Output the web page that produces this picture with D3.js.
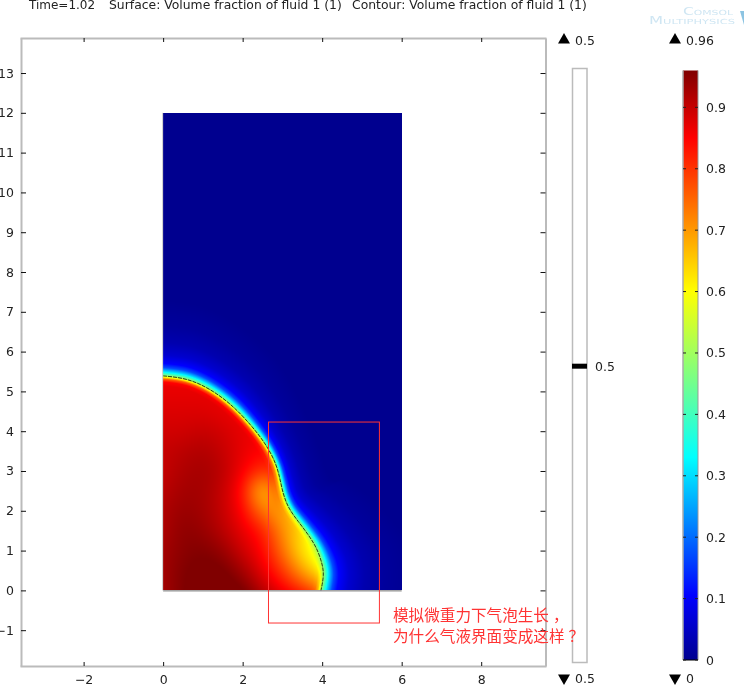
<!DOCTYPE html>
<html><head><meta charset="utf-8">
<script src="https://cdn.jsdelivr.net/npm/d3@7/dist/d3.min.js"></script>
<style>
html,body{margin:0;padding:0;background:#fff;overflow:hidden}
#wrap{position:relative;width:744px;height:688px}
canvas,svg{position:absolute;left:0;top:0}
text{font-family:"DejaVu Sans",sans-serif;font-size:12px;fill:#222}
</style></head><body><div id="wrap"><canvas id="field"></canvas><svg id="chart" width="744" height="688"></svg></div>
<script>
// ---------- data ----------
const titleParts = ["Time=1.02", "Surface: Volume fraction of fluid 1 (1)", "Contour: Volume fraction of fluid 1 (1)"];
const xTicks = [-2, 0, 2, 4, 6, 8];
const yTicks = [-1, 0, 1, 2, 3, 4, 5, 6, 7, 8, 9, 10, 11, 12, 13];
const barTicks = [0, 0.1, 0.2, 0.3, 0.4, 0.5, 0.6, 0.7, 0.8, 0.9];
const domainR = [0, 6];
const domainZ = [0, 12];
const xView = [-3.6, 9.63];
const yView = [-1.9, 13.88];
const colorRange = [0, 0.96];
const contourLevel = 0.5;
const contourMarkPos = 0.5;
const contourRange = ["0.5", "0.5"];
const surfaceRange = ["0.96", "0"];
// interface (contour 0.5): r, z, halo width factor
const ifaceR = [0, 0, .51, .93, 1.35, 1.77, 2.19, 2.57, 2.82, 2.93, 3.01, 3.15, 3.40, 3.66, 3.87, 4.00, 4.05, 3.97, 3.97];
const ifaceZ = [5.39, 5.39, 5.34, 5.19, 4.95, 4.62, 4.18, 3.70, 3.24, 2.86, 2.44, 2.06, 1.73, 1.39, 1.06, .68, .39, 0, 0];
const haloW  = [1.05, 1.05, 1.05, 1.0, .95, .9, .8, .7, .65, .65, .7, .8, .9, 1.0, 1.1, 1.25, 1.3, 1.3, 1.3];
// volume fraction outside the interface versus distance
const outD = [0, .05, .10, .20, .30, .50, .80, 1.2, 1.8];
const outV = [.5, .40, .31, .17, .105, .06, .03, .012, 0];
// blend from 0.5 to the bulk value inside the interface versus distance
const inD = [0, .04, .08, .15, .25];
const inK = [0, .35, .70, .95, 1];
// bulk volume fraction inside the bubble
const gridR = [0, .5, 1, 1.5, 2, 2.5, 3, 3.5, 4];
const gridZ = [0, .5, 1, 1.5, 2, 2.5, 3, 3.5, 4, 4.5, 5, 5.5];
const bulk = [
 [.93,.96,.98,.98,.97,.91,.86,.81,.74],
 [.93,.96,.97,.97,.93,.87,.80,.69,.60],
 [.93,.95,.96,.94,.89,.85,.74,.62,.55],
 [.92,.95,.94,.91,.87,.83,.71,.63,.58],
 [.92,.94,.93,.90,.85,.73,.68,.66,.66],
 [.91,.93,.93,.90,.84,.62,.80,.78,.78],
 [.90,.92,.93,.91,.86,.80,.83,.83,.83],
 [.90,.91,.92,.90,.87,.85,.85,.85,.85],
 [.89,.89,.90,.89,.87,.86,.85,.85,.85],
 [.88,.88,.88,.87,.86,.86,.85,.85,.85],
 [.87,.87,.87,.87,.86,.86,.85,.85,.85],
 [.86,.86,.86,.86,.86,.86,.85,.85,.85]];
// jet colour map stops (value, colour)
const jetV = [0, .105, .33, .60, .85, .96];
const jetC = ["#00008f", "#0000ff", "#00ffff", "#ffff00", "#ff0000", "#800000"];
// annotation
const boxR = [2.65, 5.44];
const boxZ = [-.82, 4.23];
const noteLines = ["模拟微重力下气泡生长，", "为什么气液界面变成这样？"];
const logoLines = ["Comsol", "Multiphysics"];

// ---------- scales ----------
const frame = {l: 21, r: 545.5, t: 38, b: 666};
const x = d3.scaleLinear().domain(xView).range([20, 546]);
const y = d3.scaleLinear().domain(yView).range([666, 38]);
const jet = d3.scaleLinear().domain(jetV).range(jetC).clamp(true);
const barY = d3.scaleLinear().domain(colorRange).range([660, 70.5]);
const contourY = d3.scaleLinear().domain([contourMarkPos - .5, contourMarkPos + .5]).range([662, 68]);

const svg = d3.select("#chart");

// ---------- interface sampled from its curve ----------
const ifacePts = ifaceR.map((r, i) => [x(r), y(ifaceZ[i]), haloW[i]]);
const line = d3.line().x(d => d[0]).y(d => d[1]).curve(d3.curveBasis);
const tmp = svg.append("path").attr("d", line(ifacePts)).attr("fill", "none");
const total = tmp.node().getTotalLength();
const nSamp = 420;
const samples = d3.range(nSamp + 1).map(i => {
  const p = tmp.node().getPointAtLength(total * i / nSamp);
  return [p.x, p.y];
});
tmp.remove();
const cum = [0];
for (let i = 1; i < ifacePts.length; i++)
  cum.push(cum[i - 1] + Math.hypot(ifacePts[i][0] - ifacePts[i - 1][0], ifacePts[i][1] - ifacePts[i - 1][1]));
const widthAt = d3.scaleLinear().domain(cum.map(c => c / cum[cum.length - 1])).range(haloW);
const sampW = samples.map((s, i) => widthAt(i / nSamp));
const poly = samples.concat([[x(0), y(0)]]);

// ---------- field ----------
const outS = d3.scaleLinear().domain(outD).range(outV).clamp(true);
const inS = d3.scaleLinear().domain(inD).range(inK).clamp(true);
const x0 = Math.round(x(domainR[0])), x1 = Math.round(x(domainR[1]));
const y0 = Math.round(y(domainZ[1])), y1 = Math.round(y(domainZ[0]));
const rT = d3.scaleLinear().domain(d3.extent(gridR)).range([0, 1]).clamp(true);
const zT = d3.scaleLinear().domain(d3.extent(gridZ)).range([0, 1]).clamp(true);
const rowSplines = bulk.map(row => d3.interpolateBasis(row));

const canvas = document.getElementById("field");
canvas.width = 744; canvas.height = 688;
const ctx = canvas.getContext("2d");
const w = x1 - x0, h = y1 - y0;
const img = ctx.createImageData(w, h);
const pxPerUnit = x(1) - x(0);
for (let px = 0; px < w; px++) {
  const cx = px + x0 + .5;
  const r = x.invert(cx);
  const colSpline = d3.interpolateBasis(rowSplines.map(f => f(rT(r))));
  for (let py = 0; py < h; py++) {
    const cy = py + y0 + .5;
    let best = 1e12, bi = 0;
    for (let i = 0; i <= nSamp; i++) {
      const dx = samples[i][0] - cx, dy = samples[i][1] - cy, q = dx * dx + dy * dy;
      if (q < best) { best = q; bi = i; }
    }
    const d = Math.sqrt(best) / pxPerUnit;
    let v;
    if (d3.polygonContains(poly, [cx, cy])) {
      const b = colSpline(zT(y.invert(cy)));
      v = contourLevel + (b - contourLevel) * inS(d);
    } else {
      v = outS(d / sampW[bi]);
    }
    const c = d3.rgb(jet(v));
    const k = (py * w + px) * 4;
    img.data[k] = c.r; img.data[k + 1] = c.g; img.data[k + 2] = c.b; img.data[k + 3] = 255;
  }
}
ctx.putImageData(img, x0, y0);

// ---------- contour ----------
svg.append("path").attr("d", line(ifacePts)).attr("fill", "none")
  .attr("stroke", "#000").attr("stroke-width", .9).attr("stroke-opacity", .85).attr("stroke-dasharray", "4 1");
svg.append("line").attr("x1", x(domainR[0])).attr("x2", x(domainR[1]))
  .attr("y1", y(0) + .5).attr("y2", y(0) + .5).attr("stroke", "#333").attr("stroke-opacity", .7);
svg.append("line").attr("x1", x(0) - .5).attr("x2", x(0) - .5)
  .attr("y1", y(domainZ[1])).attr("y2", y(0)).attr("stroke", "#ccc");

// ---------- frame and axes ----------
function styleAxis(g) {
  g.select(".domain").attr("stroke", "#bbb").attr("stroke-width", 2);
  g.selectAll(".tick line").attr("stroke", "#111");
  g.selectAll("text").style("fill", "#222").style("font-size", "12.5px").style("font-family", '"DejaVu Sans",sans-serif');
}
svg.append("g").attr("transform", `translate(0,${frame.b})`)
  .call(d3.axisBottom(x).tickValues(xTicks).tickFormat(d3.format("d")).tickSizeInner(-4).tickSizeOuter(0).tickPadding(9))
  .call(styleAxis);
svg.append("g").attr("transform", `translate(0,${frame.t})`)
  .call(d3.axisTop(x).tickValues(xTicks).tickFormat("").tickSizeInner(-4).tickSizeOuter(0))
  .call(styleAxis);
svg.append("g").attr("transform", `translate(${frame.l},0)`)
  .call(d3.axisLeft(y).tickValues(yTicks).tickFormat(d3.format("d")).tickSizeInner(-5).tickSizeOuter(0).tickPadding(7))
  .call(styleAxis);
svg.append("g").attr("transform", `translate(${frame.r},0)`)
  .call(d3.axisRight(y).tickValues(yTicks).tickFormat("").tickSizeInner(-5).tickSizeOuter(0))
  .call(styleAxis);

// ---------- title ----------
svg.selectAll("text.title").data(titleParts).join("text").attr("class", "title")
  .attr("x", (d, i) => [29, 109, 352][i]).attr("y", 9).text(d => d)
  .style("font-size", (d, i) => i ? "12.38px" : "12px");

// ---------- contour legend ----------
const tri = d3.symbol().type(d3.symbolTriangle).size(62);
function rangeMark(cx, cy, up, label) {
  svg.append("path").attr("d", tri()).attr("fill", "#000")
    .attr("transform", `translate(${cx},${cy}) rotate(${up ? 0 : 180})`);
  svg.append("text").attr("x", cx + 11).attr("y", cy + 4.5).text(label).style("font-size", "12.5px");
}
svg.append("rect").attr("x", 572.5).attr("y", contourY.range()[1] + .5).attr("width", 14.5)
  .attr("height", contourY.range()[0] - contourY.range()[1]).attr("fill", "#fff").attr("stroke", "#bbb").attr("stroke-width", 1.5);
svg.append("line").attr("x1", 572).attr("x2", 587).attr("y1", contourY(contourLevel - .002 )).attr("y2", contourY(contourLevel - .002))
  .attr("stroke", "#000").attr("stroke-width", 5);
svg.append("text").attr("x", 595).attr("y", contourY(contourLevel - .002) + 4.5).text(d3.format(".1f")(contourLevel)).style("font-size", "12.5px");
rangeMark(564, 40, true, contourRange[0]);
rangeMark(564, 678, false, contourRange[1]);

// ---------- colour bar ----------
const defs = svg.append("defs");
const grad = defs.append("linearGradient").attr("id", "jet").attr("x1", 0).attr("x2", 0).attr("y1", 1).attr("y2", 0);
grad.selectAll("stop").data(jetV).join("stop")
  .attr("offset", d => d / colorRange[1]).attr("stop-color", d => jet(d));
svg.append("rect").attr("x", 683).attr("y", barY(colorRange[1])).attr("width", 15)
  .attr("height", barY(colorRange[0]) - barY(colorRange[1])).attr("fill", "url(#jet)");
svg.append("line").attr("x1", 683).attr("x2", 683).attr("y1", barY(colorRange[1])).attr("y2", barY(0)).attr("stroke", "#aaa").attr("stroke-width", 1.5);
svg.append("line").attr("x1", 698).attr("x2", 698).attr("y1", barY(colorRange[1])).attr("y2", barY(0)).attr("stroke", "#999").attr("stroke-width", 1);
svg.append("line").attr("x1", 683).attr("x2", 698).attr("y1", barY(0)).attr("y2", barY(0)).attr("stroke", "#000");
const bt = svg.append("g").selectAll("g").data(barTicks).join("g");
bt.append("line").attr("x1", 683).attr("x2", 686).attr("y1", d => barY(d)).attr("y2", d => barY(d)).attr("stroke", "#222");
bt.append("line").attr("x1", 695).attr("x2", 698).attr("y1", d => barY(d)).attr("y2", d => barY(d)).attr("stroke", "#222");
bt.append("text").attr("x", 706).attr("y", d => barY(d) + 4.5).text(d => d === 0 ? "0" : d3.format(".1f")(d)).style("font-size", "12.5px");
rangeMark(675, 40, true, surfaceRange[0]);
rangeMark(675, 678, false, surfaceRange[1]);

// ---------- logo ----------
const logoC = "#cfe6f3";
svg.append("text").attr("x", 683).attr("y", 14.5).attr("textLength", 50).attr("lengthAdjust", "spacingAndGlyphs").text(logoLines[0])
  .style("font-variant", "small-caps").style("font-size", "10px").style("fill", logoC);
svg.append("text").attr("x", 649).attr("y", 24).attr("textLength", 86).attr("lengthAdjust", "spacingAndGlyphs").text(logoLines[1])
  .style("font-variant", "small-caps").style("font-size", "10px").style("fill", logoC);
svg.append("path").attr("d", d3.line()([[740, 11], [744, 11], [744, 25]])).attr("fill", "#8cc4e2");

// ---------- annotation (on top of everything) ----------
svg.append("rect").attr("x", x(boxR[0])).attr("y", y(boxZ[1]))
  .attr("width", x(boxR[1]) - x(boxR[0])).attr("height", y(boxZ[0]) - y(boxZ[1]))
  .attr("fill", "none").attr("stroke", "#ff3333").attr("stroke-width", 1);
const notes = svg.selectAll("text.note").data(noteLines).join("text").attr("class", "note")
  .attr("x", 393).attr("y", (d, i) => 621 + i * 21)
  .style("fill", "#ff3333").style("font-family", '"Noto Sans CJK SC",sans-serif').style("font-size", "15.6px");
notes.append("tspan").text(d => d.slice(0, -1));
notes.append("tspan").attr("dx", 4).text(d => d.slice(-1));
</script></body></html>
